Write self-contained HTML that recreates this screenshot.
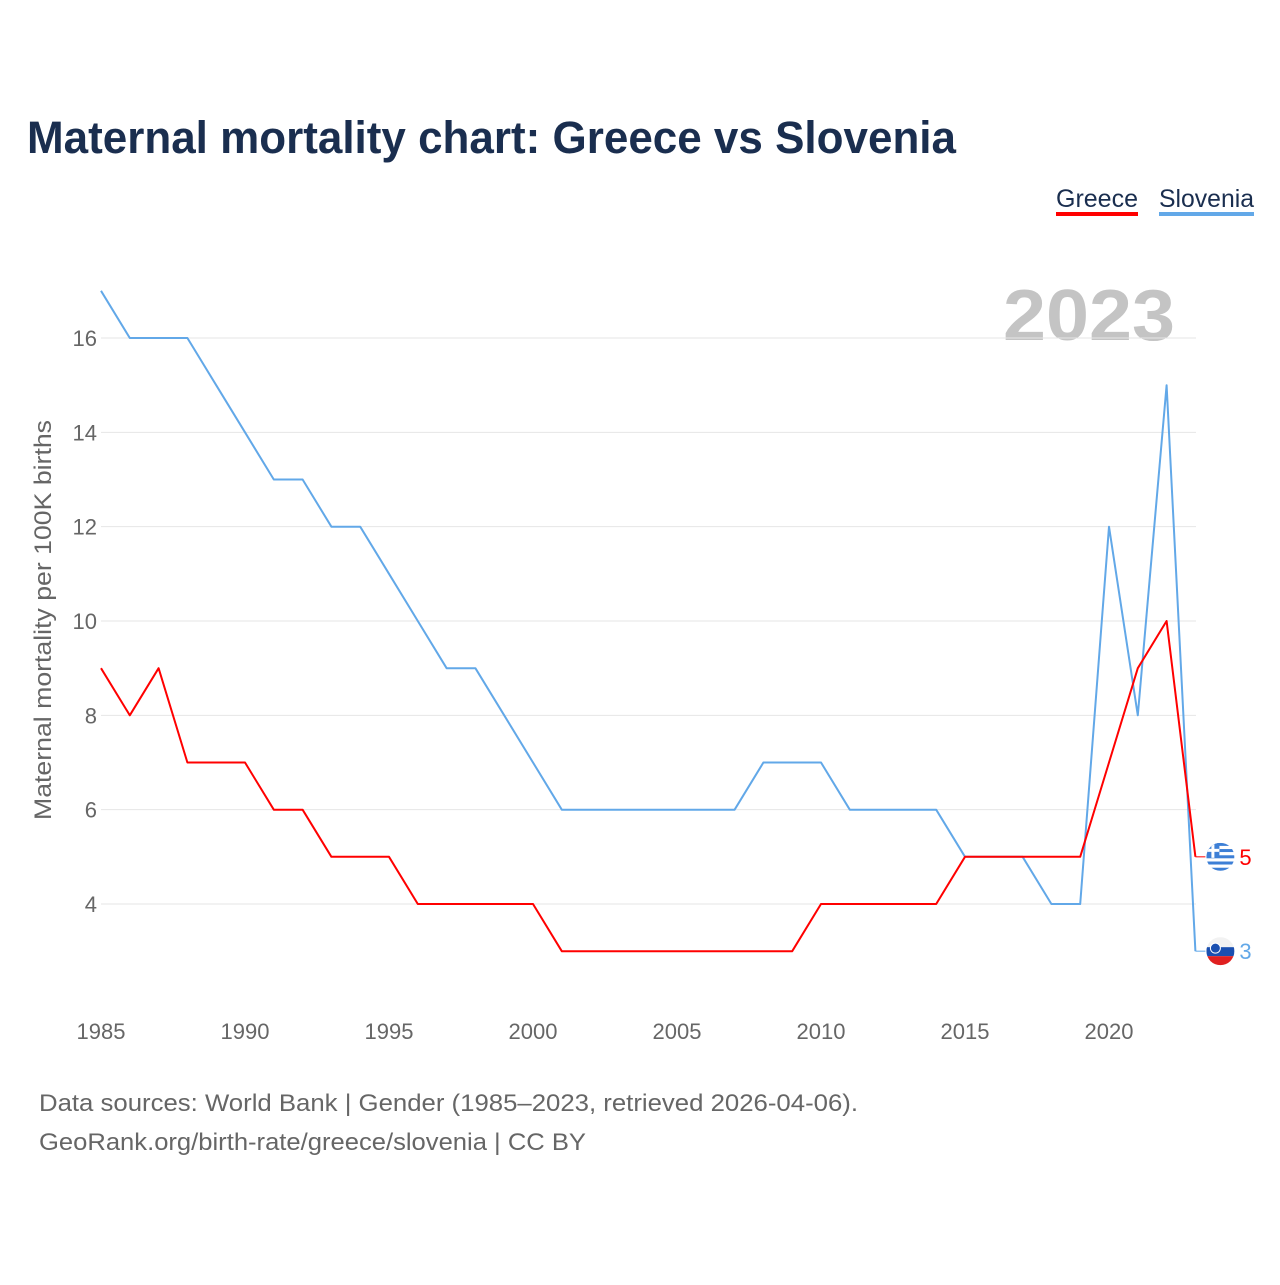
<!DOCTYPE html>
<html><head><meta charset="utf-8">
<style>
body{margin:0;background:#fff;width:1280px;height:1280px;overflow:hidden;font-family:"Liberation Sans",sans-serif;}
</style></head>
<body>
<svg id="chart" width="1280" height="1280" xmlns="http://www.w3.org/2000/svg" font-family="Liberation Sans, sans-serif">
<text x="27" y="153" font-size="45" font-weight="bold" fill="#1a2e4f" textLength="929" lengthAdjust="spacingAndGlyphs">Maternal mortality chart: Greece vs Slovenia</text>
<g>
<text x="1056" y="207" font-size="25" fill="#1a2e4f" textLength="82" lengthAdjust="spacingAndGlyphs">Greece</text>
<rect x="1056" y="212" width="82" height="4" fill="#ff0000"/>
<text x="1159" y="207" font-size="25" fill="#1a2e4f" textLength="95" lengthAdjust="spacingAndGlyphs">Slovenia</text>
<rect x="1159" y="212" width="95" height="4" fill="#62a8e8"/>
</g>
<text x="1003" y="340" font-size="72" font-weight="bold" fill="#c4c4c4" textLength="172" lengthAdjust="spacingAndGlyphs">2023</text>
<g id="grid"></g>
<g id="xaxis"></g>
<g id="yaxis"></g>
<text transform="translate(51,620) rotate(-90)" font-size="24" fill="#666" text-anchor="middle" textLength="400" lengthAdjust="spacingAndGlyphs">Maternal mortality per 100K births</text>
<g id="series"></g>
<text x="39" y="1111" font-size="24" fill="#666" textLength="819" lengthAdjust="spacingAndGlyphs">Data sources: World Bank | Gender (1985–2023, retrieved 2026-04-06).</text>
<text x="39" y="1150" font-size="24" fill="#666" textLength="547" lengthAdjust="spacingAndGlyphs">GeoRank.org/birth-rate/greece/slovenia | CC BY</text>
</svg>
<script>
const years=[1985,1986,1987,1988,1989,1990,1991,1992,1993,1994,1995,1996,1997,1998,1999,2000,2001,2002,2003,2004,2005,2006,2007,2008,2009,2010,2011,2012,2013,2014,2015,2016,2017,2018,2019,2020,2021,2022,2023];
const greece=[9,8,9,7,7,7,6,6,5,5,5,4,4,4,4,4,3,3,3,3,3,3,3,3,3,4,4,4,4,4,5,5,5,5,5,7,9,10,5];
const slovenia=[17,16,16,16,15,14,13,13,12,12,11,10,9,9,8,7,6,6,6,6,6,6,6,7,7,7,6,6,6,6,5,5,5,4,4,12,8,15,3];
const xTicks=[1985,1990,1995,2000,2005,2010,2015,2020];
const yTicks=[4,6,8,10,12,14,16];
const NS="http://www.w3.org/2000/svg";
const X=y=>101+(y-1985)*28.8;
const Y=v=>904-(v-4)*47.1667;
function mk(tag,attrs,parent,txt){const e=document.createElementNS(NS,tag);for(const k in attrs)e.setAttribute(k,attrs[k]);if(txt!==undefined)e.textContent=txt;parent.appendChild(e);return e;}
const grid=document.getElementById('grid'),xa=document.getElementById('xaxis'),ya=document.getElementById('yaxis'),ser=document.getElementById('series');
yTicks.forEach(t=>{
  const l=mk('line',{x1:101,x2:1196,y1:Y(t),y2:Y(t),stroke:'#e6e6e6','stroke-width':1},grid);
  
  
  const tx=mk('text',{x:97,y:Y(t)+8,'font-size':22,fill:'#666','text-anchor':'end'},ya,String(t));
  
  
});
xTicks.forEach(t=>{
  const tx=mk('text',{x:X(t),y:1039,'font-size':22,fill:'#666','text-anchor':'middle'},xa,String(t));
  
  
});
function line(vals,color,name){
  const d=vals.map((v,i)=>(i?'L':'M')+X(years[i]).toFixed(1)+','+Y(v).toFixed(1)).join(' ');
  const p=mk('path',{d:d,fill:'none',stroke:color,'stroke-width':2,'stroke-linejoin':'round'},ser);
  
  
}
line(slovenia,'#62a8e8','slovenia-line');
line(greece,'#ff0000','greece-line');
function endLabel(vals,color,name,flag){
  const v=vals[vals.length-1],x=X(years[years.length-1]),y=Y(v);
  mk('line',{x1:x,x2:x+10,y1:y,y2:y,stroke:color,'stroke-width':1},ser);
  const g=mk('g',{},ser);
  
  
  const cx=x+25;
  const cid='clip'+name;
  const cp=mk('clipPath',{id:cid},g);mk('circle',{cx:cx,cy:y,r:14},cp);
  const gg=mk('g',{'clip-path':'url(#'+cid+')'},g);
  if(flag==='gr'){
    for(let i=0;i<9;i++)mk('rect',{x:cx-14,y:y-14+i*28/9,width:28,height:28/9,fill:i%2?'#fff':'#3d7fd6'},gg);
    mk('rect',{x:cx-14,y:y-14,width:13,height:15,fill:'#3d7fd6'},gg);
    mk('rect',{x:cx-9,y:y-14,width:3,height:15,fill:'#fff'},gg);
    mk('rect',{x:cx-14,y:y-8,width:13,height:3,fill:'#fff'},gg);
  }else{
    mk('rect',{x:cx-14,y:y-14,width:28,height:10,fill:'#f2f2f2'},gg);
    mk('rect',{x:cx-14,y:y-4,width:28,height:9,fill:'#1a4fb0'},gg);
    mk('rect',{x:cx-14,y:y+5,width:28,height:10,fill:'#e02020'},gg);
    mk('circle',{cx:cx-5,cy:y-3,r:5,fill:'#1a4fb0',stroke:'#fff','stroke-width':1},gg);
  }
  const t=mk('text',{x:x+44,y:y+8,'font-size':22,fill:color},ser,String(v));
  
  
}
endLabel(greece,'#ff0000','greece','gr');
endLabel(slovenia,'#62a8e8','slovenia','si');
</script>
</body></html>
